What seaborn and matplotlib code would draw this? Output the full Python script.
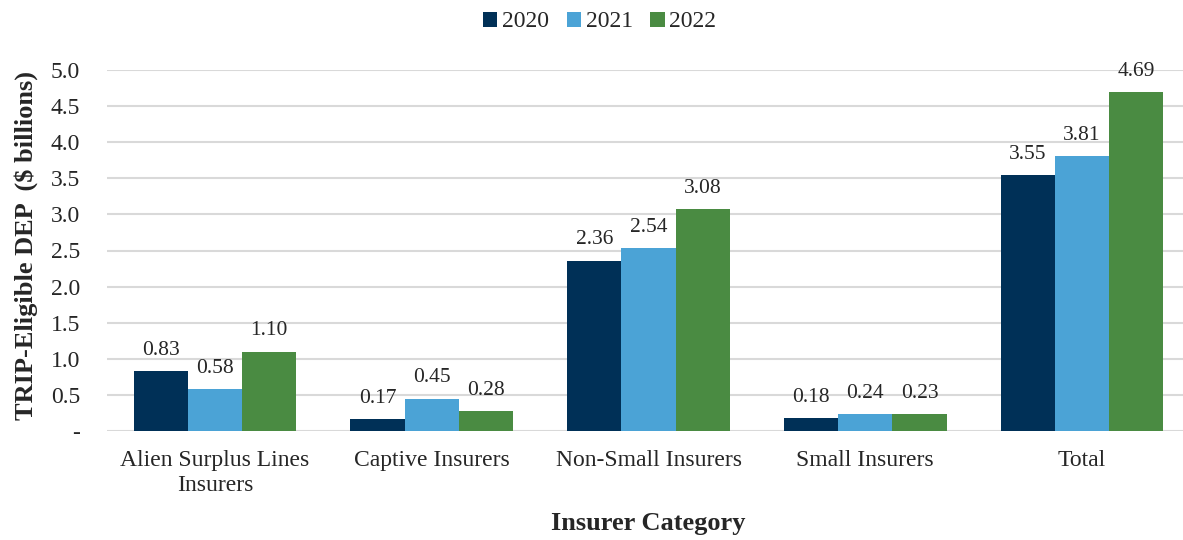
import matplotlib
matplotlib.use("Agg")
import matplotlib.pyplot as plt
import seaborn as sns
import pandas as pd

# Data
categories = ["Alien Surplus Lines\nInsurers", "Captive Insurers", "Non-Small Insurers",
              "Small Insurers", "Total"]
years = ["2020", "2021", "2022"]
dep_2020 = [0.83, 0.17, 2.36, 0.18, 3.55]
dep_2021 = [0.58, 0.45, 2.54, 0.24, 3.81]
dep_2022 = [1.10, 0.28, 3.08, 0.23, 4.69]
yticks = [0, 0.5, 1.0, 1.5, 2.0, 2.5, 3.0, 3.5, 4.0, 4.5, 5.0]
ytick_labels = ["-"] + [f"{v:.1f}" for v in yticks[1:]]

df = pd.DataFrame({
    "Category": categories * 3,
    "Year": [y for y in years for _ in categories],
    "DEP": dep_2020 + dep_2021 + dep_2022,
})

colors = ["#003057", "#4BA3D6", "#4A8B42"]

sns.set_style("white")
plt.rcParams["font.family"] = ["Liberation Serif", "DejaVu Serif"]

fig = plt.figure(figsize=(11.83, 5.4), dpi=100)
ax = fig.add_axes([106.5 / 1183, 109 / 540, 1084 / 1183, 361 / 540])

sns.barplot(data=df, x="Category", y="DEP", hue="Year", palette=colors,
            width=0.75, saturation=1, linewidth=0, ax=ax, legend=True)

for cont in ax.containers:
    ax.bar_label(cont, fmt="%.2f", padding=8, fontsize=15.5)

ax.set_xlim(-0.5, 4.5)
ax.set_ylim(0, 5.0)
ax.set_yticks(yticks)
ax.set_yticklabels(ytick_labels)
ax.yaxis.grid(True, color="#d9d9d9", linewidth=1.5)
ax.set_axisbelow(True)
for s in ax.spines.values():
    s.set_visible(False)
ax.tick_params(axis="both", length=0, labelsize=17)
ax.tick_params(axis="x", pad=14)
ax.tick_params(axis="y", pad=19)

ax.set_xlabel("Insurer Category", fontsize=19, fontweight="bold", labelpad=12)
ax.set_ylabel("TRIP-Eligible DEP  ($ billions)", fontsize=19, fontweight="bold")
ax.yaxis.set_label_coords(-0.063, 0.515)

ax.legend(loc="center", bbox_to_anchor=(0.455, 1.133), ncol=3, frameon=False,
          fontsize=17, handlelength=0.6, handleheight=0.6, handletextpad=0.2,
          columnspacing=0.75)

fig.savefig("out.png", dpi=100)
